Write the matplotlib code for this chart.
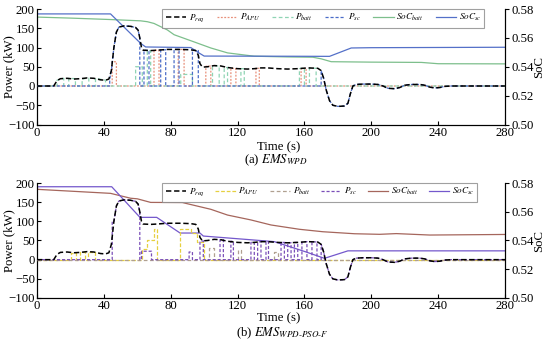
import numpy as np
import matplotlib
matplotlib.use("Agg")
import matplotlib.pyplot as plt

plt.rcParams['font.family'] = ['Liberation Serif', 'DejaVu Serif']
plt.rcParams['mathtext.fontset'] = 'stix'

# ---------------- data ----------------
# demanded power (kW) of the drive cycle
t_req = [0, 10, 12, 14, 18, 22, 26, 30, 34, 38, 41, 43, 44.5, 46, 47.5, 49, 52, 56, 59, 60.5, 61.5, 62.5,
         63.5, 68, 72, 78, 86, 92, 95, 96.5, 97.5, 99, 102, 106, 110, 114, 120, 126, 130, 134, 138, 144,
         150, 156, 162, 168, 170, 171.5, 173, 175, 177, 180, 184, 186, 187.5, 189, 191, 195, 200, 204,
         207, 210, 214, 217, 220, 224, 229, 232, 235, 238, 241, 244, 248, 280]
p_req = [0, 0, 14, 19, 20, 18, 19, 21, 20, 16, 15, 18, 40, 100, 140, 153, 156, 155, 152, 145, 125, 100,
         93, 92, 93, 95, 95, 94, 92, 80, 58, 49, 50, 53, 52, 48, 45, 44, 45, 47, 47, 45,
         44, 45, 47, 46, 40, 20, -10, -38, -50, -53, -52, -45, -20, 0, 4, 5, 5, 4,
         0, -6, -7, -4, 2, 4, 4, 2, -3, -5, -4, -1, 0, 0]

# (a) EMS_WPD components
t_sc_a = [0, 43.5, 43.5, 44.5, 46, 47.5, 49, 52, 56, 59, 60.5, 61.5, 61.5, 64, 64, 67, 67, 74, 74, 77, 77,
          82, 82, 85, 85, 93, 93, 96.5, 96.5, 170, 170, 171.5, 173, 175, 177, 180, 184, 186, 187.5, 189,
          191, 195, 200, 204, 207, 210, 214, 217, 220, 224, 229, 232, 235, 238, 241, 244, 248, 280]
p_sc_a = [0, 0, 18, 40, 100, 140, 153, 156, 155, 152, 145, 125, 0, 0, 93, 92, 0, 0, 94, 94, 0,
          0, 95, 95, 0, 0, 93, 92, 0, 0, 40, 20, -10, -38, -50, -53, -52, -45, -20, 0,
          4, 5, 5, 4, 0, -6, -7, -4, 2, 4, 4, 2, -3, -5, -4, -1, 0, 0]
t_apu_a = [0, 45, 45, 47.5, 47.5, 70, 70, 73, 73, 84.5, 84.5, 88, 88, 101, 101, 104, 104, 116, 116, 119,
           119, 131, 131, 133, 133, 158, 158, 161, 161, 280]
p_apu_a = [0, 0, 63, 63, 0, 0, 93, 93, 0, 0, 95, 95, 0, 0, 51, 52, 0, 0, 46, 45,
           0, 0, 46, 46, 0, 0, 45, 46, 0, 0]
t_batt_a = [0, 12, 12, 16, 16, 19, 19, 23, 23, 27, 27, 31, 31, 35, 35, 41, 41, 59, 59, 63, 63, 66, 66,
            68, 68, 86, 86, 93, 93, 105, 105, 109, 109, 112, 112, 114, 114, 122, 122, 124, 124, 157, 157,
            160, 160, 163, 163, 167, 167, 280]
p_batt_a = [0, 0, 15, 20, 0, 0, 20, 19, 0, 0, 18, 21, 0, 0, 20, 15, 0, 0, 50, 50, 0, 0, 92,
            92, 0, 0, 30, 30, 0, 0, 52, 52, 0, 0, 48, 48, 0, 0, 45, 45, 0, 0, 45,
            47, 0, 0, 47, 46, 0, 0]
t_socb_a = [0, 20, 44, 62, 66, 70, 78, 82, 94, 104, 114, 130, 150, 165, 170, 176, 200, 230, 240, 280]
soc_b_a = [0.5744, 0.5737, 0.5727, 0.5718, 0.5712, 0.5700, 0.5655, 0.5622, 0.5572, 0.5530, 0.5496,
           0.5473, 0.5468, 0.5466, 0.5455, 0.5435, 0.5432, 0.5430, 0.5421, 0.5420]
t_socs_a = [0, 44, 62, 65, 92, 97, 100, 140, 175, 188, 200, 280]
soc_s_a = [0.5766, 0.5766, 0.5562, 0.5537, 0.5533, 0.5495, 0.5474, 0.5473, 0.5472, 0.5530, 0.5532, 0.5535]

# (b) EMS_WPD-PSO-F components
t_sc_b = [0, 45, 45, 46, 47.5, 49, 52, 56, 59, 60.5, 61.5, 61.5, 62.5, 62.5, 68.5, 68.5, 91, 91, 93, 93,
          97.5, 97.5, 99.5, 99.5, 109.5, 109.5, 111.5, 111.5, 116, 116, 117.5, 117.5, 128, 128, 130, 130,
          132, 132, 134, 134, 137, 137, 138.5, 138.5, 146, 146, 148, 148, 150, 150, 152, 152, 154, 154,
          156, 156, 158.5, 158.5, 161.5, 161.5, 164.5, 164.5, 167.5, 167.5, 170, 170, 171.5, 173, 175,
          177, 180, 184, 186, 187.5, 189, 191, 195, 200, 204, 207, 210, 214, 217, 220, 224, 229, 232,
          235, 238, 241, 244, 248, 280]
p_sc_b = [0, 0, 100, 100, 140, 153, 156, 155, 152, 145, 125, 0, 0, 22, 22, 0, 0, 20, 20, 0,
          0, 48, 49, 0, 0, 52, 52, 0, 0, 48, 48, 0, 0, 45, 45, 0,
          0, 46, 47, 0, 0, 47, 47, 0, 0, 45, 45, 0, 0, 44, 44, 0, 0, 45,
          45, 0, 0, 46, 47, 0, 0, 47, 46, 0, 0, 40, 20, -10, -38,
          -50, -53, -52, -45, -20, 0, 4, 5, 5, 4, 0, -6, -7, -4, 2, 4, 4, 2,
          -3, -5, -4, -1, 0, 0]
t_apu_b = [0, 20.5, 20.5, 23.5, 23.5, 25.5, 25.5, 28.5, 28.5, 30.5, 30.5, 34.5, 34.5, 63, 63, 66, 66, 70,
           70, 72, 72, 85.5, 85.5, 92, 92, 96, 96, 100, 100, 280]
p_apu_b = [0, 0, 18, 18, 0, 0, 19, 19, 0, 0, 21, 21, 0, 0, 27, 27, 52, 52,
           80, 80, 0, 0, 79, 79, 70, 70, 45, 45, 0, 0]
t_batt_b = [0, 103, 103, 106, 106, 120, 120, 122, 122, 142, 142, 144, 144, 280]
p_batt_b = [0, 0, 30, 30, 0, 0, 25, 25, 0, 0, 20, 20, 0, 0]
t_socb_b = [0, 44, 56, 60, 68, 87, 104, 114, 128, 140, 157, 171, 190, 205, 215, 235, 280]
soc_b_b = [0.5756, 0.5728, 0.5694, 0.5690, 0.5665, 0.5664, 0.5617, 0.5577, 0.5543, 0.5508, 0.5478,
           0.5461, 0.5447, 0.5443, 0.5448, 0.5438, 0.5442]
t_socs_b = [0, 44.7, 61.6, 71.6, 85.6, 97.5, 99.5, 128, 142, 160, 172, 186, 280]
soc_s_b = [0.5774, 0.5774, 0.5561, 0.5561, 0.5452, 0.5452, 0.5431, 0.5405, 0.5392, 0.5324, 0.5276,
           0.5328, 0.5328]

labels = [r'$P_{req}$', r'$P_{APU}$', r'$P_{batt}$', r'$P_{sc}$', r'$SoC_{batt}$', r'$SoC_{sc}$']

# ---------------- figure ----------------
fig = plt.figure(figsize=(5.5, 3.45), dpi=100)
W, H = 550, 345
FS = 9.2


def make_axes(top_px, bot_px):
    return fig.add_axes([37 / W, 1 - bot_px / H, 468 / W, (bot_px - top_px) / H])


def panel(ax, series, socs, colors, styles, leg_w):
    ax2 = ax.twinx()
    handles = []
    (tr, pr) = series[0]
    h, = ax.plot(tr, pr, color='black', lw=1.1, ls=(0, (3.5, 1.8)), zorder=5)
    handles.append(h)
    for (tt, pp), c, s in zip(series[1:], colors[:3], styles):
        h, = ax.plot(tt, pp, color=c, lw=0.9, ls=s, zorder=4)
        handles.append(h)
    for (tt, ss), c in zip(socs, colors[3:]):
        h, = ax2.plot(tt, ss, color=c, lw=0.9)
        handles.append(h)
    ax.set_xlim(0, 280)
    ax.set_ylim(-100, 200)
    ax2.set_ylim(0.50, 0.58)
    ax.set_xticks(np.arange(0, 281, 40))
    ax.set_yticks(np.arange(-100, 201, 50))
    ax2.set_yticks([0.50, 0.52, 0.54, 0.56, 0.58])
    ax2.set_yticklabels(['0.50', '0.52', '0.54', '0.56', '0.58'])
    for a in (ax, ax2):
        a.spines['top'].set_visible(False)
        a.tick_params(labelsize=FS, length=3, width=0.8, pad=1.5)
    ax.tick_params(axis='x', direction='in')
    ax.tick_params(axis='y', direction='in')
    ax2.tick_params(axis='y', direction='out')
    ax.set_ylabel('Power (kW)', fontsize=FS)
    ax.yaxis.set_label_coords((15 - 37) / 468, 0.5)
    ax2.set_ylabel('SoC', fontsize=FS)
    ax2.yaxis.set_label_coords((533 - 37) / 468, 0.5)
    ax.set_zorder(ax2.get_zorder() + 1)
    ax.patch.set_visible(False)
    leg = ax.legend(handles, labels, ncol=6, loc='upper left', mode='expand',
                    bbox_to_anchor=(0.268, 1.0, leg_w, 0.0),
                    fontsize=6.6, frameon=True, fancybox=False, edgecolor='#888888',
                    handlelength=2.2, handletextpad=0.3, columnspacing=0.5, borderpad=0.35,
                    borderaxespad=0)
    leg.get_frame().set_linewidth(0.8)
    return ax2


axa = make_axes(9, 124.5)
panel(axa,
      [(t_req, p_req), (t_apu_a, p_apu_a), (t_batt_a, p_batt_a), (t_sc_a, p_sc_a)],
      [(t_socb_a, soc_b_a), (t_socs_a, soc_s_a)],
      ['#e8907a', '#8fd4b4', '#4a6cc8', '#7dbf8c', '#5470c8'],
      [(0, (1.5, 1.2)), (0, (3, 2)), (0, (2.5, 1.5))], 0.688)

axb = make_axes(183, 298)
panel(axb,
      [(t_req, p_req), (t_apu_b, p_apu_b), (t_batt_b, p_batt_b), (t_sc_b, p_sc_b)],
      [(t_socb_b, soc_b_b), (t_socs_b, soc_s_b)],
      ['#e6d040', '#b0a090', '#7a4fb8', '#a5665c', '#7458cc'],
      [(0, (3, 1.5)), (0, (3, 2)), (0, (2.5, 1.5))], 0.673)

fig.text(257 / W, 1 - 147 / H, 'Time (s)', ha='left', va='center', fontsize=FS)
fig.text(276 / W, 1 - 160 / H, r'(a) $\mathit{EMS}_{\mathit{WPD}}$', ha='center', va='center', fontsize=FS)
fig.text(257 / W, 1 - 318 / H, 'Time (s)', ha='left', va='center', fontsize=FS)
fig.text(282 / W, 1 - 333 / H, r'(b) $\mathit{EMS}_{\mathit{WPD}\text{-}\mathit{PSO}\text{-}\mathit{F}}$',
         ha='center', va='center', fontsize=FS)

fig.savefig('out.png', dpi=100)
